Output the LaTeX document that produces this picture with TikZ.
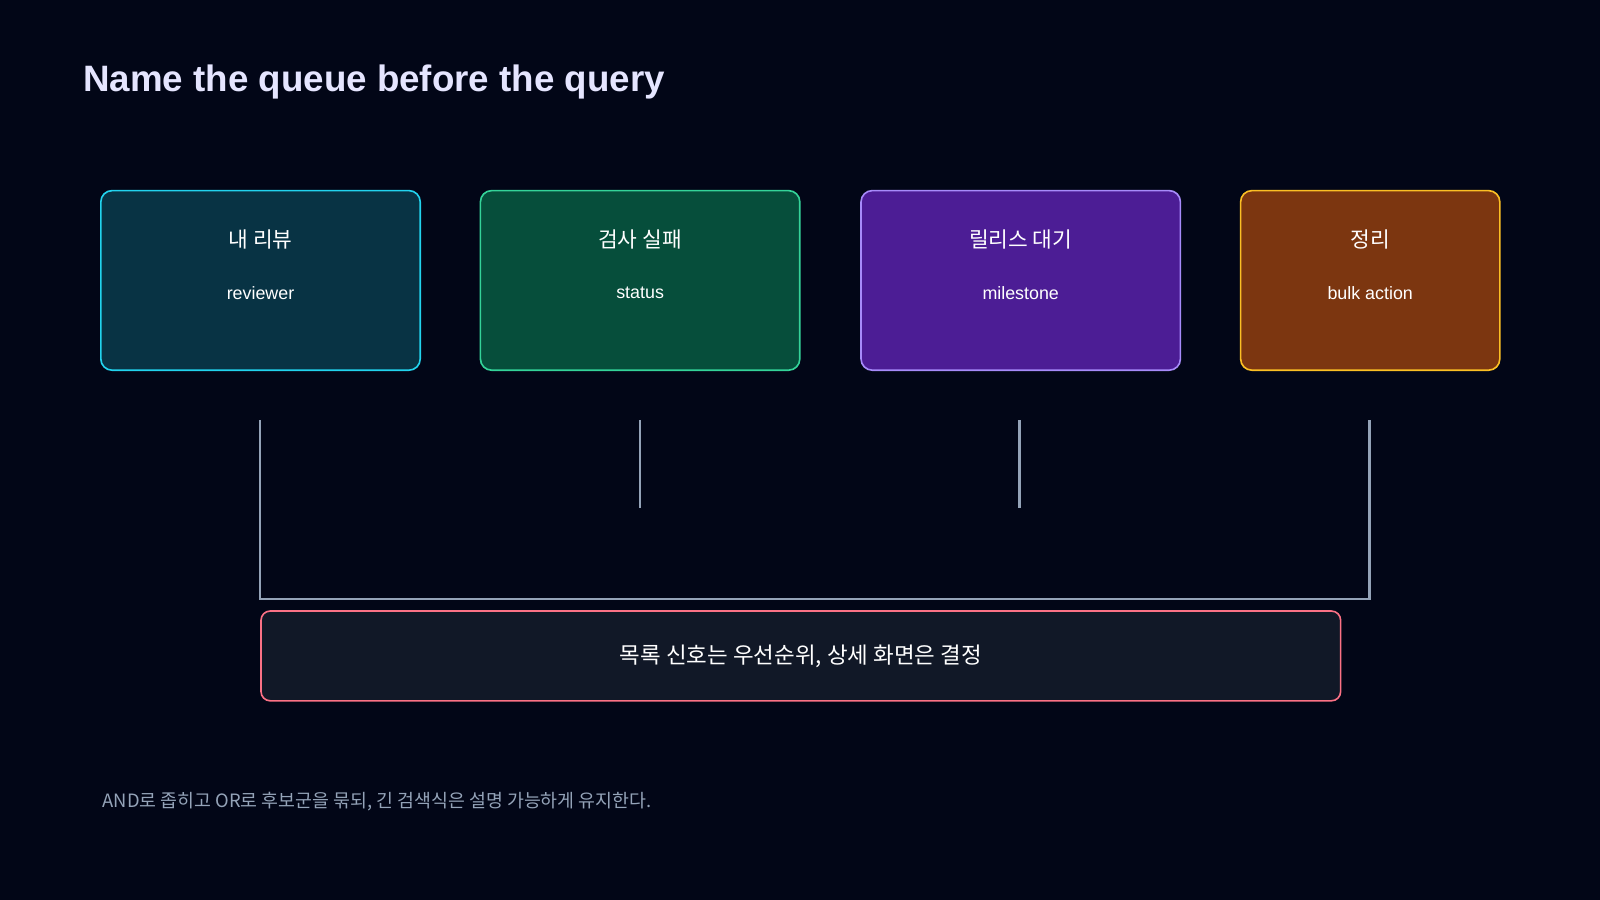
\documentclass[tikz,border=0pt]{standalone}
\usepackage{fontspec}
\setmainfont{Liberation Sans}
\newfontfamily\kr{Noto Sans CJK KR}
\usetikzlibrary{positioning}
\definecolor{bg}{HTML}{020617}
\definecolor{wire}{HTML}{94A3B8}
\definecolor{cyanE}{HTML}{22D3EE}\definecolor{cyanF}{HTML}{083344}
\definecolor{grnE}{HTML}{34D399}\definecolor{grnF}{HTML}{064E3B}
\definecolor{purE}{HTML}{A78BFA}\definecolor{purF}{HTML}{4C1D95}
\definecolor{orgE}{HTML}{FBBF24}\definecolor{orgF}{HTML}{7C3610}
\definecolor{redE}{HTML}{FB7185}\definecolor{redF}{HTML}{111827}
\tikzset{
  queue/.style={draw=#1E, fill=#1F, line width=1.6pt, rounded corners=11pt,
    minimum height=176pt, anchor=north west},
  ttl/.style={text=white, font=\kr\fontsize{21}{24}\selectfont},
  sub/.style={text=white, font=\fontsize{17.5}{20}\selectfont},
  wire/.style={draw=wire, line width=2.2pt}
}
\begin{document}
\begin{tikzpicture}[x=1pt,y=-1pt]
  \useasboundingbox[fill=bg] (0,0) rectangle (1568,882);

  \node[anchor=west, text=white!90!blue, font=\bfseries\fontsize{36}{40}\selectfont] (title) at (78,80) {Name the queue before the query};

  % queues
  \node[queue=cyan, minimum width=313pt] (q1) at (98,186) {};
  \node[queue=grn, minimum width=313pt] (q2) at (470,186) {};
  \node[queue=pur, minimum width=313pt] (q3) at (843,186) {};
  \node[queue=org, minimum width=254pt] (q4) at (1215,186) {};

  \foreach \q/\t/\s in {q1/내 리뷰/reviewer / open, q2/검사 실패/status / unread,
                       q3/릴리스 대기/milestone / label, q4/정리/bulk action}{
    \node[ttl] (\q t) at ([yshift=-49pt]\q.north) {\t};
    \node[sub] (\q s) at ([yshift=-101pt]\q.north) {\s};
  }

  % bracket
  \coordinate (a1) at (255,412); \coordinate (b1) at (255,587);
  \coordinate (a2) at (627,412); \coordinate (b2) at (627,498);
  \coordinate (a3) at (999,412); \coordinate (b3) at (999,498);
  \coordinate (a4) at (1342,412); \coordinate (b4) at (1342,587);
  \draw[wire] (a1) -- (b1) -- (b4) -- (a4);
  \draw[wire] (a2) -- (b2);
  \draw[wire] (a3) -- (b3);

  \node[draw=redE, fill=redF, line width=1.6pt, rounded corners=9pt, anchor=north west,
    minimum width=1058pt, minimum height=88pt] (verdict) at (255,598) {};
  \node[ttl, font=\kr\fontsize{22}{26}\selectfont] (verdictt) at (verdict.center) {목록 신호는 우선순위, 상세 화면은 결정};

  \node[anchor=west, text=wire, font=\kr\fontsize{18}{22}\selectfont] (note) at (97,786)
    {AND로 좁히고 OR로 후보군을 묶되, 긴 검색식은 설명 가능하게 유지한다.};
\end{tikzpicture}
\end{document}
